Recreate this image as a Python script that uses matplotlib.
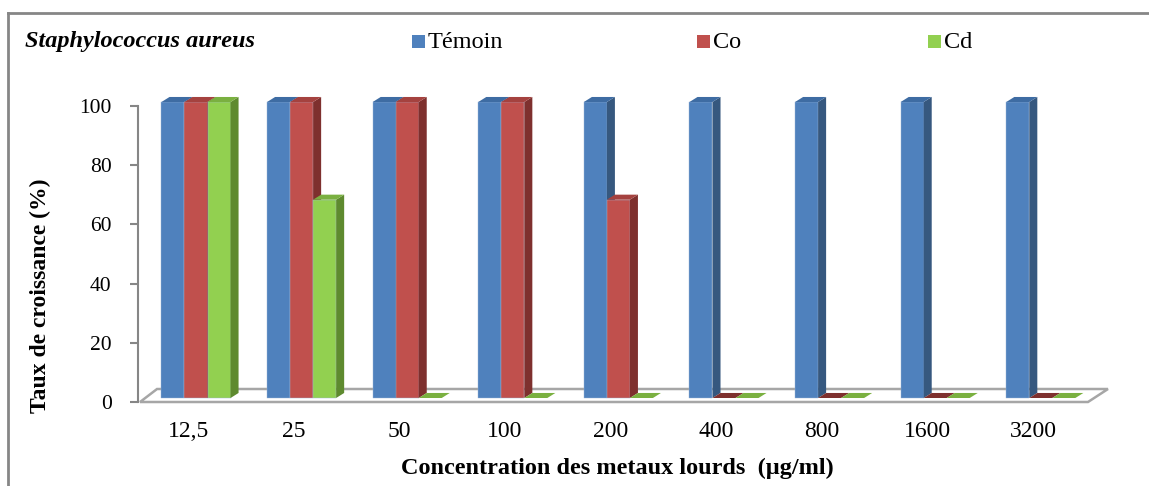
import matplotlib.pyplot as plt
from matplotlib.patches import Polygon, Rectangle
from matplotlib.lines import Line2D

# données
concentrations = ['12,5', '25', '50', '100', '200', '400', '800', '1600', '3200']
temoin = [100, 100, 100, 100, 100, 100, 100, 100, 100]
co = [100, 100, 100, 100, 67, 0, 0, 0, 0]
cd = [100, 67, 0, 0, 0, 0, 0, 0, 0]
series_names = ['Témoin', 'Co', 'Cd']

# couleurs (face avant, dessus, côté)
front_colors = ['#4F81BD', '#C0504D', '#92D050']
top_colors = ['#3E6CA3', '#A5423F', '#7AB040']
side_colors = ['#36587F', '#7E302E', '#5E8A2F']

plt.rcParams['font.family'] = ['Liberation Serif', 'DejaVu Serif']

fig = plt.figure(figsize=(11.49, 4.86), dpi=100)
ax = fig.add_axes([0, 0, 1, 1])
# 105.6 px par catégorie, 2.96 px par %
ax.set_xlim(-196 / 105.6, (1149 - 196) / 105.6)
ax.set_ylim(-(486 - 402) / 2.96, 402 / 2.96)

n = len(concentrations)
bw = 0.218          # largeur d'une barre
ddx, ddy = 0.076, 1.7   # profondeur des barres
base = 1.35         # barres posées un peu en retrait

# sol 3D
floor = Polygon([(-0.53, 0), (-0.369, 4.39), (n - 1 + 0.636, 4.39), (n - 1 + 0.447, 0)],
                closed=True, facecolor='white', edgecolor='#A6A6A6', lw=1.8, zorder=1)
ax.add_patch(floor)

z = 2
for i in range(n):
    for j, vals in enumerate([temoin, co, cd]):
        v = vals[i]
        x0 = i + (j - 1.5) * bw
        top = base + v
        if v > 0:
            ax.bar(x0, v, width=bw, bottom=base, align='edge', color=front_colors[j],
                   edgecolor='#9DB6D8', linewidth=0.3, zorder=z)
            side = Polygon([(x0 + bw, base), (x0 + bw + ddx, base + ddy),
                            (x0 + bw + ddx, top + ddy), (x0 + bw, top)],
                           closed=True, facecolor=side_colors[j], edgecolor='none', zorder=z)
            ax.add_patch(side)
            top_col = top_colors[j]
        else:
            top_col = side_colors[j] if j == 1 else top_colors[j]
        tp = Polygon([(x0, top), (x0 + bw, top), (x0 + bw + ddx, top + ddy), (x0 + ddx, top + ddy)],
                     closed=True, facecolor=top_col, edgecolor='none', zorder=z)
        ax.add_patch(tp)
        z += 1

# axe des ordonnées
ax.spines['left'].set_position(('data', -0.549))
ax.spines['left'].set_bounds(0, 100)
ax.spines['left'].set_color('#868686')
ax.spines['left'].set_linewidth(1.5)
for s in ['top', 'right', 'bottom']:
    ax.spines[s].set_visible(False)
ax.set_yticks([0, 20, 40, 60, 80, 100])
ax.tick_params(axis='y', direction='out', length=6, width=1.5, color='#868686',
               labelsize=15.5, pad=13)
ax.set_xticks([])

for i, lab in enumerate(concentrations):
    ax.text(i - 0.075, -9.8, lab, ha='center', va='center', fontsize=17)

fig.text(40 / 1149, 1 - 296 / 486, 'Taux de croissance (%)', rotation=90, ha='center', va='center',
         fontsize=17, fontweight='bold')
fig.text(617 / 1149, 1 - 468 / 486, 'Concentration des metaux lourds  (µg/ml)', ha='center', va='center',
         fontsize=17.5, fontweight='bold')

# titre + légende
fig.text(25 / 1149, 1 - 42 / 486, 'Staphylococcus aureus', ha='left', va='center',
         fontsize=17.5, fontweight='bold', style='italic')
legend_x = [412, 697, 928]
for name, col, xp in zip(series_names, front_colors, legend_x):
    fig.patches.append(Rectangle((xp / 1149, 1 - 48 / 486), 13 / 1149, 13 / 486,
                                 transform=fig.transFigure, facecolor=col, edgecolor='none'))
    fig.text((xp + 16) / 1149, 1 - 42 / 486, name, ha='left', va='center', fontsize=17.5)

# cadre
fig.add_artist(Line2D([8 / 1149, 1], [1 - 13 / 486, 1 - 13 / 486], color='#868686', lw=2))
fig.add_artist(Line2D([8 / 1149, 8 / 1149], [0, 1 - 13 / 486], color='#868686', lw=2))

fig.savefig('out.png', dpi=100)
